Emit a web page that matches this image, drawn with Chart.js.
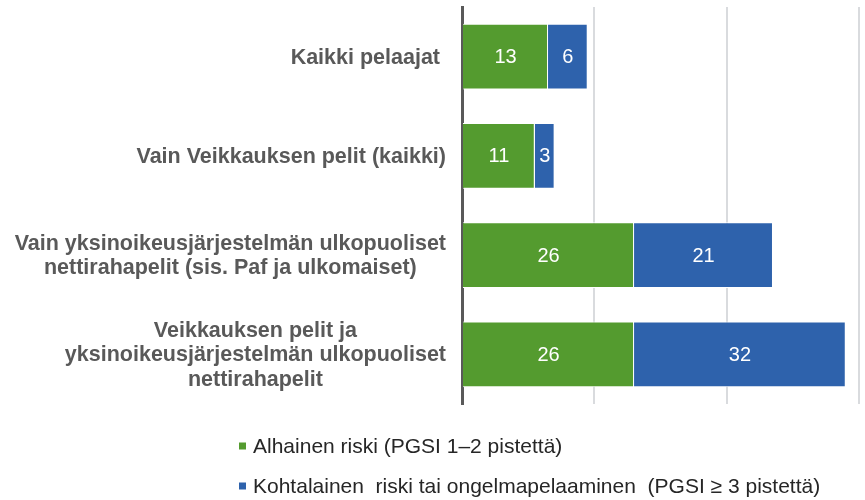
<!DOCTYPE html>
<html>
<head>
<meta charset="utf-8">
<script src="https://cdn.jsdelivr.net/npm/chart.js@4"></script>
<style>
  html, body { margin: 0; padding: 0; background: #fff; }
  #wrap { width: 865px; height: 500px; }
</style>
</head>
<body>
<div id="wrap"><canvas id="riskChart" width="865" height="500"></canvas></div>
<script>
// data
const categories = [
    ['Kaikki pelaajat '],
    ['Vain Veikkauksen pelit (kaikki)'],
    ['Vain yksinoikeusjärjestelmän ulkopuoliset', 'nettirahapelit (sis. Paf ja ulkomaiset)'],
    ['Veikkauksen pelit ja', 'yksinoikeusjärjestelmän ulkopuoliset', 'nettirahapelit']
];
const lowRisk = [13, 11, 26, 26];
const highRisk = [6, 3, 21, 32];
const seriesNames = [
    'Alhainen riski (PGSI 1–2 pistettä)',
    'Kohtalainen  riski tai ongelmapelaaminen  (PGSI ≥ 3 pistettä)'
];
const seriesColors = ['#549b2f', '#2e62ac'];

const FONT = '"Liberation Sans", Arial, sans-serif';

// white numbers in the middle of each bar segment
const barValues = {
    id: 'barValues',
    afterDatasetsDraw(chart) {
        const ctx = chart.ctx;
        ctx.save();
        ctx.font = '20px ' + FONT;
        ctx.fillStyle = '#ffffff';
        ctx.textAlign = 'center';
        ctx.textBaseline = 'middle';
        chart.data.datasets.forEach((ds, di) => {
            chart.getDatasetMeta(di).data.forEach((bar, i) => {
                const p = bar.getProps(['x', 'y', 'base'], true);
                ctx.fillText(String(ds.data[i]), (p.x + p.base) / 2, p.y + 1);
            });
        });
        ctx.restore();
    }
};

// category labels: block right-aligned to the axis, lines centred inside the block
const categoryLabels = {
    id: 'categoryLabels',
    afterDraw(chart) {
        const ctx = chart.ctx;
        const yScale = chart.scales.y;
        const rightEdge = yScale.right - 16;
        const lineHeight = 24.5;
        ctx.save();
        ctx.font = 'bold 21.5px ' + FONT;
        ctx.fillStyle = '#595959';
        ctx.textAlign = 'center';
        ctx.textBaseline = 'middle';
        chart.data.labels.forEach((lines, i) => {
            const maxW = Math.max(...lines.map(l => ctx.measureText(l).width));
            const cx = rightEdge - maxW / 2;
            const cy = yScale.getPixelForTick(i);
            const y0 = cy - (lines.length - 1) * lineHeight / 2;
            lines.forEach((line, k) => {
                ctx.fillText(line, cx, y0 + k * lineHeight + 1);
            });
        });
        ctx.restore();
    }
};

// legend stacked under the chart
const stackedLegend = {
    id: 'stackedLegend',
    afterDraw(chart) {
        const ctx = chart.ctx;
        const left = 239;
        const rows = [446, 486];
        ctx.save();
        ctx.font = '21px ' + FONT;
        ctx.textAlign = 'left';
        ctx.textBaseline = 'middle';
        chart.data.datasets.forEach((ds, i) => {
            ctx.fillStyle = ds.backgroundColor;
            ctx.fillRect(left, rows[i] - 3.5, 7, 7);
            ctx.fillStyle = '#262626';
            ctx.fillText(ds.label, left + 14, rows[i] + 1);
        });
        ctx.restore();
    }
};

const ctx = document.getElementById('riskChart').getContext('2d');
const riskChart = new Chart(ctx, {
    type: 'bar',
    data: {
        labels: categories,
        datasets: [
            {
                label: seriesNames[0],
                data: lowRisk,
                backgroundColor: seriesColors[0],
                borderColor: '#ffffff',
                borderWidth: 1
            },
            {
                label: seriesNames[1],
                data: highRisk,
                backgroundColor: seriesColors[1],
                borderColor: '#ffffff',
                borderWidth: 1
            }
        ]
    },
    options: {
        indexAxis: 'y',
        responsive: false,
        animation: false,
        devicePixelRatio: 1,
        barPercentage: 0.66,
        categoryPercentage: 1,
        layout: {
            padding: { top: 7, right: 6, bottom: 96, left: 0 }
        },
        plugins: {
            legend: { display: false },
            tooltip: { enabled: false }
        },
        scales: {
            x: {
                stacked: true,
                min: 0,
                max: 60,
                ticks: { display: false, stepSize: 20 },
                grid: { color: '#d9dbde', lineWidth: 2, drawTicks: false },
                border: { display: false }
            },
            y: {
                stacked: true,
                ticks: { display: false },
                grid: { display: false },
                border: { display: true, color: '#595959', width: 3 },
                afterFit(scale) {
                    scale.width = 462;
                }
            }
        }
    },
    plugins: [barValues, categoryLabels, stackedLegend]
});
</script>
</body>
</html>
